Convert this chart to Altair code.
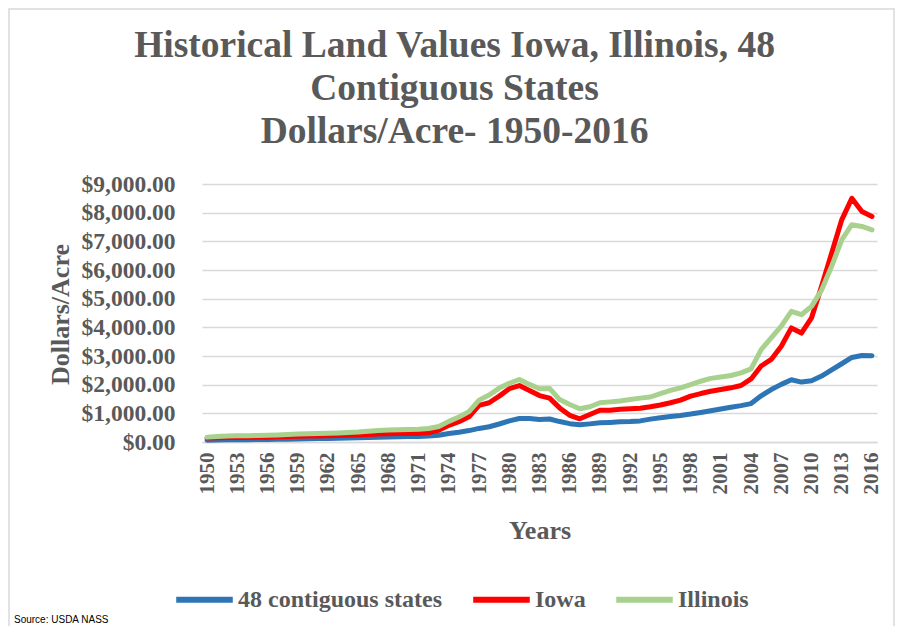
import altair as alt
import pandas as pd

years = list(range(1950, 2017))

us48 = [65, 74, 80, 82, 82, 85, 89, 95, 100, 108,
        116, 118, 124, 131, 139, 147, 157, 167, 176, 183,
        188, 194, 207, 234, 294, 340, 398, 474, 531, 628,
        737, 819, 823, 788, 801, 713, 640, 599, 632, 668,
        683, 703, 713, 736, 798, 844, 887, 926, 974, 1030,
        1090, 1150, 1210, 1270, 1340, 1610, 1830, 2010, 2170, 2090,
        2140, 2300, 2520, 2730, 2950, 3020, 3010]

iowa = [140, 150, 160, 160, 160, 165, 170, 180, 190, 200,
        205, 210, 215, 225, 235, 245, 265, 280, 290, 295,
        295, 300, 330, 410, 580, 710, 880, 1280, 1370, 1600,
        1860, 1970, 1800, 1620, 1530, 1190, 930, 810, 960, 1110,
        1110, 1140, 1160, 1180, 1230, 1290, 1370, 1460, 1600, 1690,
        1770, 1830, 1890, 1970, 2200, 2650, 2880, 3340, 3980, 3800,
        4330, 5430, 6590, 7750, 8500, 8040, 7870]

illinois = [170, 190, 210, 215, 220, 225, 235, 245, 260, 280,
            290, 295, 305, 315, 330, 345, 375, 400, 420, 430,
            440, 445, 470, 540, 720, 870, 1060, 1460, 1640, 1880,
            2050, 2180, 2010, 1860, 1870, 1480, 1310, 1160, 1230, 1370,
            1400, 1430, 1480, 1530, 1570, 1690, 1800, 1890, 2000, 2120,
            2220, 2270, 2320, 2410, 2550, 3220, 3630, 4040, 4560, 4440,
            4730, 5300, 6130, 7050, 7580, 7520, 7400]

series_names = ["48 contiguous states", "Iowa", "Illinois"]
series_colors = ["#2E75B6", "#FF0000", "#A9D18E"]
x_ticks = list(range(1950, 2017, 3))
y_ticks = list(range(0, 9001, 1000))
title_lines = ["Historical Land Values Iowa, Illinois, 48",
               "Contiguous States",
               "Dollars/Acre- 1950-2016"]
source_text = ["Source: USDA NASS"]

rows = []
for name, vals in zip(series_names, [us48, iowa, illinois]):
    for yr, v in zip(years, vals):
        rows.append({"Year": yr, "Value": v, "Series": name})
df = pd.DataFrame(rows)

FONT = "Liberation Serif"
GRAY = "#595959"
GRID = "#D9D9D9"

lines = alt.Chart(df).mark_line(strokeWidth=5, strokeJoin="round", strokeCap="round").encode(
    x=alt.X("Year:Q",
            scale=alt.Scale(domain=[1949.5, 2016.5], nice=False, zero=False),
            axis=alt.Axis(values=x_ticks, format="d", labelAngle=270, title="Years",
                          grid=False, ticks=False, tickSize=0, domain=True,
                          domainColor=GRID, domainWidth=1.5, labelPadding=10,
                          labelFontSize=21, titleFontSize=26, titleY=88,
                          titleBaseline="middle")),
    y=alt.Y("Value:Q",
            scale=alt.Scale(domain=[0, 9000], nice=False),
            axis=alt.Axis(values=y_ticks, format="$,.2f", title="Dollars/Acre",
                          grid=True, gridColor=GRID, gridWidth=1.5, ticks=False,
                          tickSize=0, domain=False, labelPadding=27, labelFontSize=23.5,
                          titleFontSize=26, titleX=-142, titleY=130,
                          titleBaseline="middle")),
    color=alt.Color("Series:N",
                    scale=alt.Scale(domain=series_names, range=series_colors),
                    sort=series_names,
                    legend=alt.Legend(orient="none", legendX=-29, legendY=384,
                                      direction="horizontal", title=None,
                                      symbolType="stroke", symbolSize=3200,
                                      symbolStrokeWidth=6, labelFont=FONT,
                                      labelFontSize=24, labelFontWeight="bold",
                                      labelColor=GRAY, labelOffset=2,
                                      columnPadding=18, labelLimit=400)),
)

source = alt.Chart(pd.DataFrame({"t": source_text})).mark_text(
    font="Liberation Sans Narrow, Liberation Sans", fontSize=10, color="#000000",
    align="left", baseline="middle").encode(
    text="t:N", x=alt.value(-188), y=alt.value(436))

border = alt.Chart(pd.DataFrame({"a": [0]})).mark_rect(
    fill="transparent", stroke=GRID, strokeWidth=1.5).encode(
    x=alt.value(-193), x2=alt.value(692), y=alt.value(-175), y2=alt.value(460))

chart = alt.layer(border, lines, source).properties(
    width=675, height=258,
    autosize=alt.AutoSizeParams(type="none"),
    padding={"left": 194, "top": 176, "right": 24, "bottom": 184},
    title=alt.TitleParams(text=title_lines, font=FONT, fontSize=37.5, fontWeight="bold",
                          color=GRAY, anchor="middle", dx=-85, offset=-142,
                          lineHeight=43, frame="group"),
).configure_axis(
    labelFont=FONT, titleFont=FONT, labelFontWeight="bold", titleFontWeight="bold",
    labelColor=GRAY, titleColor=GRAY
).configure_view(strokeWidth=0)

chart.save("out.html", embed_options={"renderer": "svg", "actions": False})
